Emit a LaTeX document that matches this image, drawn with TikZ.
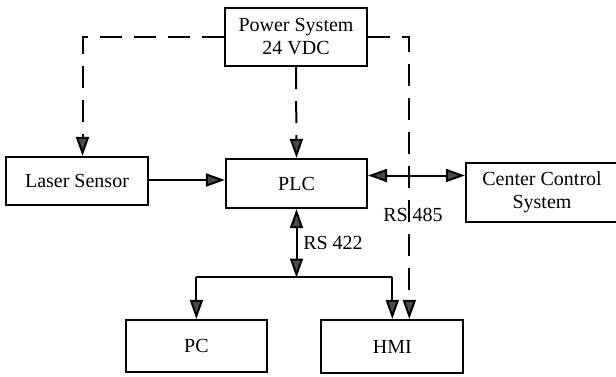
\documentclass[tikz,border=0pt]{standalone}
\usepackage{fontspec}
\setmainfont{Liberation Serif}
\usetikzlibrary{arrows.meta}
\definecolor{tipgray}{HTML}{4A4A4A}
\begin{document}
\begin{tikzpicture}[x=1pt,y=-1pt,
  box/.style={draw=black,line width=2.2pt,minimum width=#1,inner sep=0pt,align=center,
    font=\fontsize{20}{23}\selectfont},
  conn/.style={line width=2pt,-{Triangle[length=19pt,width=13pt,fill=tipgray]}},
  bidir/.style={line width=2pt,{Triangle[length=19pt,width=13pt,fill=tipgray]}-{Triangle[length=19pt,width=13pt,fill=tipgray]}},
  pwr/.style={conn,dash pattern=on 22pt off 12pt},
  lbl/.style={font=\fontsize{20}{23}\selectfont,inner sep=0pt}]
\useasboundingbox (0,0) rectangle (616,376);
\node[box=142pt,minimum height=58pt] (power) at (296,37) {Power System\\24 VDC};
\node[box=142pt,minimum height=48pt] (laser) at (77,181) {Laser Sensor};
\node[box=141pt,minimum height=49pt] (plc) at (296.5,183.5) {PLC};
\node[box=152pt,minimum height=59pt] (ccs) at (542,192.5) {Center Control\\System};
\node[box=141pt,minimum height=52pt] (pc) at (196.4,346) {PC};
\node[box=142pt,minimum height=53pt] (hmi) at (392.3,346.5) {HMI};
\coordinate (bus) at (296.5,276.5);
% power lines
\draw[pwr] (power.west) -| ([xshift=5.5pt]laser.north);
\draw[pwr] (power.south) -- (plc.north);
\draw[pwr] (power.east) -| ([xshift=17pt]hmi.north);
% signal lines
\draw[conn] ([yshift=1pt]laser.east) -- ([yshift=1pt]laser.east -| plc.west);
\draw[bidir] ([yshift=8pt]plc.east) -- ([yshift=8pt]plc.east -| ccs.west);
\draw[bidir] (plc.south) -- ([yshift=-1pt]bus);
\draw[line width=2pt] (pc.north |- bus) -- (hmi.north |- bus);
\draw[conn] (pc.north |- bus) -- (pc.north);
\draw[conn] (hmi.north |- bus) -- (hmi.north);
\node[lbl] (rs485) at (413,215) {RS 485};
\node[lbl] (rs422) at (333,243) {RS 422};
\end{tikzpicture}
\end{document}
